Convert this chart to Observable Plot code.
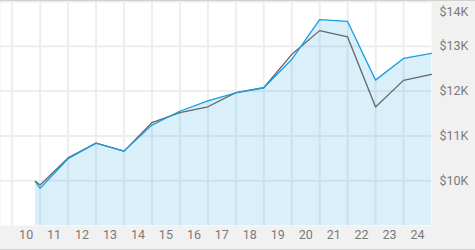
<!DOCTYPE html>
<html>
<head>
<meta charset="utf-8">
<script src="https://cdn.jsdelivr.net/npm/d3@7"></script>
<script src="https://cdn.jsdelivr.net/npm/@observablehq/plot@0.6"></script>
<style>
  html, body { margin: 0; padding: 0; background: #fff; }
  #chart { width: 475px; background: #f1f1f1; border-top: 1px solid #cfcfcf; border-bottom: 1px solid #cfcfcf; }
  #chart svg { display: block; background: transparent; }
</style>
</head>
<body>
<div id="chart"></div>
<script>
const dates = ["2010-10-31","2010-12-31","2011-12-31","2012-12-31","2013-12-31","2014-12-31","2015-12-31","2016-12-31","2017-12-31","2018-12-31","2019-12-31","2020-12-31","2021-12-31","2022-12-31","2023-12-31","2024-12-31"];
const fundValues = [9980, 9830, 10490, 10840, 10660, 11240, 11550, 11780, 11960, 12075, 12705, 13595, 13555, 12245, 12730, 12840];
const benchmarkValues = [9985, 9905, 10510, 10840, 10660, 11295, 11520, 11650, 11965, 12075, 12815, 13350, 13210, 11645, 12240, 12375];
const yearLabels = ["10","11","12","13","14","15","16","17","18","19","20","21","22","23","24"];
const yTicks = [10000, 11000, 12000, 13000, 14000];
const yTickLabels = ["$10K","$11K","$12K","$13K","$14K"];

const parse = d3.utcParse("%Y-%m-%d");
const fund = dates.map((d, i) => ({date: parse(d), v: fundValues[i]}));
const bench = dates.map((d, i) => ({date: parse(d), v: benchmarkValues[i]}));
const yearStarts = yearLabels.map(l => new Date(Date.UTC(2000 + +l, 0, 1)));
const yearMids = yearLabels.map(l => ({date: new Date(Date.UTC(2000 + +l, 6, 2)), label: l}));
const yLab = yTicks.map((t, i) => ({v: t, label: yTickLabels[i]}));

const font = "Roboto, 'Liberation Sans', sans-serif";
const chart = Plot.plot({
  width: 475,
  height: 248,
  marginLeft: 0,
  marginRight: 44,
  marginTop: 0,
  marginBottom: 24,
  style: {fontFamily: font, background: "transparent"},
  x: {type: "utc", domain: [new Date(Date.UTC(2009, 7, 1)), parse("2024-12-31")], axis: null},
  y: {domain: [9000, 14000], axis: null},
  marks: [
    Plot.frame({fill: "#fff", stroke: null}),
    Plot.ruleX(yearStarts, {x: d => d, stroke: "#eeeeee", strokeWidth: 2}),
    Plot.ruleY(yTicks, {y: d => d, stroke: "#eeeeee", strokeWidth: 2}),
    Plot.areaY(fund, {x: "date", y: "v", fill: "rgb(0,150,220)", fillOpacity: 0.15, clip: true}),
    Plot.lineY(bench, {x: "date", y: "v", stroke: "#666", strokeWidth: 1.3}),
    Plot.lineY(fund, {x: "date", y: "v", stroke: "#1a9fe0", strokeWidth: 1.3}),
    Plot.text(yearMids, {x: "date", text: "label", frameAnchor: "bottom", dy: 9, fill: "#7a7a7a", fontSize: 12.5, lineAnchor: "middle"}),
    Plot.text(yLab.filter(d => d.v < 14000), {y: "v", text: "label", frameAnchor: "right", dx: 8, textAnchor: "start", fill: "#7a7a7a", fontSize: 12.5}),
    Plot.text(yLab.filter(d => d.v >= 14000), {y: "v", text: "label", frameAnchor: "right", dx: 8, dy: 10, textAnchor: "start", fill: "#7a7a7a", fontSize: 12.5})
  ]
});
document.getElementById("chart").appendChild(chart);
</script>
</body>
</html>
